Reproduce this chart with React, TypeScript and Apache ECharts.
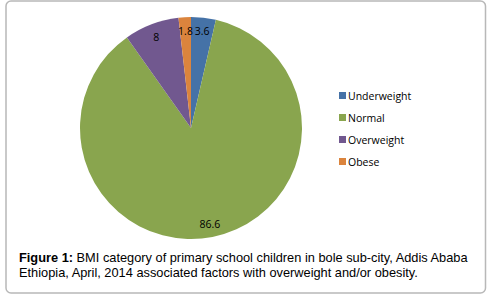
import React, { useEffect, useRef } from "react";
import * as echarts from "echarts";

const categories = ["Underweight", "Normal", "Overweight", "Obese"];
const values = [3.6, 86.6, 8, 1.8];
const colors = ["#4572A7", "#89A54E", "#71588F", "#DB843D"];
const captionBold = "Figure 1:";
const captionLine1 = " BMI category of primary school children in bole sub-city, Addis Ababa";
const captionLine2 = "Ethiopia, April, 2014 associated factors with overweight and/or obesity.";

export default function App() {
  const ref = useRef<HTMLDivElement>(null);
  useEffect(() => {
    if (!ref.current) return;
    const chart = echarts.init(ref.current, null, { renderer: "svg" });
    const data = categories.map((name, i) => ({
      name,
      value: values[i],
      itemStyle: { color: colors[i] },
    }));
    chart.setOption({
      animation: false,
      backgroundColor: "#ffffff",
      legend: {
        orient: "vertical",
        left: 334,
        top: 85,
        itemWidth: 7,
        itemHeight: 7,
        itemGap: 11,
        icon: "rect",
        data: categories.map((name, i) => ({ name, itemStyle: { color: colors[i] } })),
        textStyle: { fontFamily: "Open Sans", fontSize: 10.5, color: "#000", padding: [0, 0, 0, -3] },
        selectedMode: false,
      },
      title: {
        left: 19,
        top: 250,
        padding: 0,
        text: `{b|${captionBold}}{n|${captionLine1}}\n{n|${captionLine2}}`,
        textStyle: {
          fontWeight: "normal",
          rich: {
            b: { fontFamily: "Liberation Sans", fontSize: 12.8, fontWeight: "bold", color: "#000", lineHeight: 15 },
            n: { fontFamily: "Liberation Sans", fontSize: 12.8, fontWeight: "normal", color: "#000", lineHeight: 15 },
          },
        },
      },
      graphic: [
        {
          type: "rect",
          shape: { x: 6, y: 1, width: 479.5, height: 292, r: 5 },
          style: { fill: "none", stroke: "#b8b8b8", lineWidth: 1.5 },
          silent: true,
          z: 100,
        },
      ],
      series: [
        {
          type: "pie",
          center: [191, 128],
          radius: 111,
          startAngle: 90,
          clockwise: true,
          data,
          label: { show: false },
          labelLine: { show: false },
          silent: true,
        },
        {
          type: "pie",
          center: [191, 128],
          radius: [78, 111],
          startAngle: 90,
          clockwise: true,
          data: categories.map((name, i) => ({ name, value: values[i] })),
          itemStyle: { color: "rgba(0,0,0,0)" },
          label: {
            show: true,
            position: "inside",
            formatter: "{c}",
            fontFamily: "Open Sans",
            fontSize: 10.5,
            color: "#000",
          },
          labelLine: { show: false },
          silent: true,
          z: 3,
        },
      ],
    });
    return () => chart.dispose();
  }, []);
  return (
    <div
      ref={ref}
      style={{ position: "fixed", left: 0, top: 0, width: 492, height: 294 }}
    />
  );
}
